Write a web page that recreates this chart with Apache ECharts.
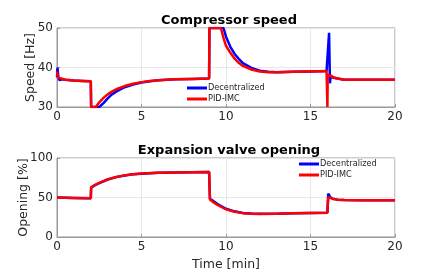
<!DOCTYPE html>
<html><head><meta charset="utf-8">
<script src="https://cdn.jsdelivr.net/npm/echarts@6/dist/echarts.min.js"></script>
<style>html,body{margin:0;padding:0;background:#fff}#c{width:436px;height:273px}</style>
</head><body><div id="c"></div>
<script>
// Compressor speed [Hz]
const speedTimeDec = [0,0.03,0.08,0.15,0.3,0.5,1,1.5,2.0,2.02,2.5,2.75,3,3.25,3.5,4,4.5,5,5.5,6,7,8,9.0,9.02,9.85,10,10.25,10.5,10.75,11,11.5,12,12.5,13,14,15,15.95,16.05,16.1,16.15,16.2,16.25,16.35,16.6,17,18,20];
const speedDec     = [37.5,40,37.5,36.8,37.0,36.9,36.7,36.6,36.5,30,30,31.0,32.2,33.2,33.9,35.0,35.7,36.2,36.5,36.8,37.0,37.1,37.2,50,50,47.8,45.3,43.5,42.2,41.1,39.9,39.2,38.9,38.8,38.9,39.0,39.1,39.1,48.8,36,38,37.6,37.4,37.2,36.9,36.9,36.9];
const speedTimePid = [0,0.05,0.15,0.5,1,1.5,2.0,2.02,2.3,2.5,2.75,3,3.25,3.5,4,4.5,5,5.5,6,7,8,9.0,9.02,9.7,9.85,10,10.25,10.5,10.75,11,11.5,12,12.5,13,14,15,15.95,16.0,16.02,16.05,16.1,16.3,16.6,17,18,20];
const speedPid     = [39,37.5,37.1,36.9,36.7,36.6,36.5,30,30,31.2,32.3,33.2,33.9,34.5,35.3,35.9,36.3,36.6,36.8,37.0,37.1,37.2,50,50,47.5,45.5,43.8,42.3,41.2,40.4,39.5,39.0,38.8,38.8,38.9,39.0,39.1,30,38.2,38.0,37.9,37.6,37.2,36.9,36.9,36.9];
// Expansion valve opening [%]
const openTimeDec = [0,1,2.0,2.02,2.25,2.5,3,3.5,4,4.5,5,6,7,8,9.0,9.05,9.25,9.5,10,10.5,11,11.5,12,13,14,15,16.0,16.05,16.15,16.3,16.6,17,18,20];
const openDec     = [50,49.5,49,62.5,65.5,68.3,72.8,75.8,77.8,79.3,80.2,81.2,81.7,82,82.2,48.5,45.5,41.8,35.8,32.5,30.5,29.7,29.3,29.5,30,30.5,30.8,55,51,48.5,47.3,46.7,46.5,46.5];
const openTimePid = [0,1,2.0,2.02,2.25,2.5,3,3.5,4,4.5,5,6,7,8,9.0,9.05,9.25,9.5,10,10.5,11,11.5,12,13,14,15,16.0,16.05,16.3,16.6,17,18,20];
const openPid     = [50,49.5,49,63,66,68.5,73,76,78,79.5,80.3,81.3,81.8,82,82.2,47.5,44,40.5,35,32,30.2,29.5,29.2,29.5,30,30.5,30.8,50.5,48.5,47.3,46.7,46.5,46.5];
const names = ['Decentralized','PID-IMC'];

const zip = (a,b)=>a.map((t,i)=>[t,b[i]]);
const FONT = "'DejaVu Sans', sans-serif";
const TXT = '#262626';
const chart = echarts.init(document.getElementById('c'), null, {renderer:'canvas'});

function xAxis(gi, withName){
  return {type:'value', gridIndex:gi, min:0, max:20, interval:5,
    axisLine:{show:true,lineStyle:{color:'#999',width:1}},
    axisTick:{show:true,inside:true,length:3,lineStyle:{color:'#999'}},
    axisLabel:{color:TXT,fontSize:12,fontFamily:FONT,margin:4},
    splitLine:{show:true,lineStyle:{color:'#e8e8e8',width:1}},
    name: withName ? 'Time [min]' : '', nameLocation:'middle', nameGap:21, nameMoveOverlap:false,
    nameTextStyle:{color:TXT,fontSize:12.5,fontFamily:FONT}};
}
function yAxis(gi, min, max, interval, name){
  return {type:'value', gridIndex:gi, min, max, interval,
    axisLine:{show:true,lineStyle:{color:'#999',width:1}},
    axisTick:{show:true,inside:true,length:3,lineStyle:{color:'#999'}},
    axisLabel:{color:TXT,fontSize:12,fontFamily:FONT,margin:4},
    splitLine:{show:true,lineStyle:{color:'#e8e8e8',width:1}},
    name, nameLocation:'middle', nameGap: gi===0?20:27, nameRotate:90, nameMoveOverlap:false,
    nameTextStyle:{color:TXT,fontSize:12.5,fontFamily:FONT}};
}
function line(name, data, color, xi){
  return {name, type:'line', xAxisIndex:xi, yAxisIndex:xi, data, showSymbol:false, symbol:'none',
    lineStyle:{color, width:2.5}, itemStyle:{color}, clip:true, z: color==='#ff0000'?3:2};
}
function legend(left, top){
  return {data:names, orient:'vertical', left, top, itemWidth:20, itemHeight:3, itemGap:1, icon:'rect',
    textStyle:{fontSize:8.2,lineHeight:10,color:TXT,fontFamily:FONT,padding:[0,0,0,-4]}, padding:0};
}

chart.setOption({
  animation:false,
  title:[
    {text:'Compressor speed', left:224, top:9, textAlign:'center',
      textStyle:{fontSize:13,fontWeight:'bold',color:'#000',fontFamily:FONT}},
    {text:'Expansion valve opening', left:224, top:139, textAlign:'center',
      textStyle:{fontSize:13,fontWeight:'bold',color:'#000',fontFamily:FONT}}
  ],
  grid:[
    {left:57, top:28, width:338, height:79, show:true, borderColor:'#999', borderWidth:1, backgroundColor:'transparent'},
    {left:57, top:158, width:338, height:79, show:true, borderColor:'#999', borderWidth:1, backgroundColor:'transparent'}
  ],
  legend:[legend(187, 83), legend(299, 159)],
  xAxis:[xAxis(0,false), xAxis(1,true)],
  yAxis:[yAxis(0,30,50,10,'Speed [Hz]'), yAxis(1,0,100,50,'Opening [%]')],
  series:[
    line(names[0], zip(speedTimeDec, speedDec), '#0000ff', 0),
    line(names[1], zip(speedTimePid, speedPid), '#ff0000', 0),
    line(names[0], zip(openTimeDec, openDec), '#0000ff', 1),
    line(names[1], zip(openTimePid, openPid), '#ff0000', 1)
  ]
});
</script></body></html>
